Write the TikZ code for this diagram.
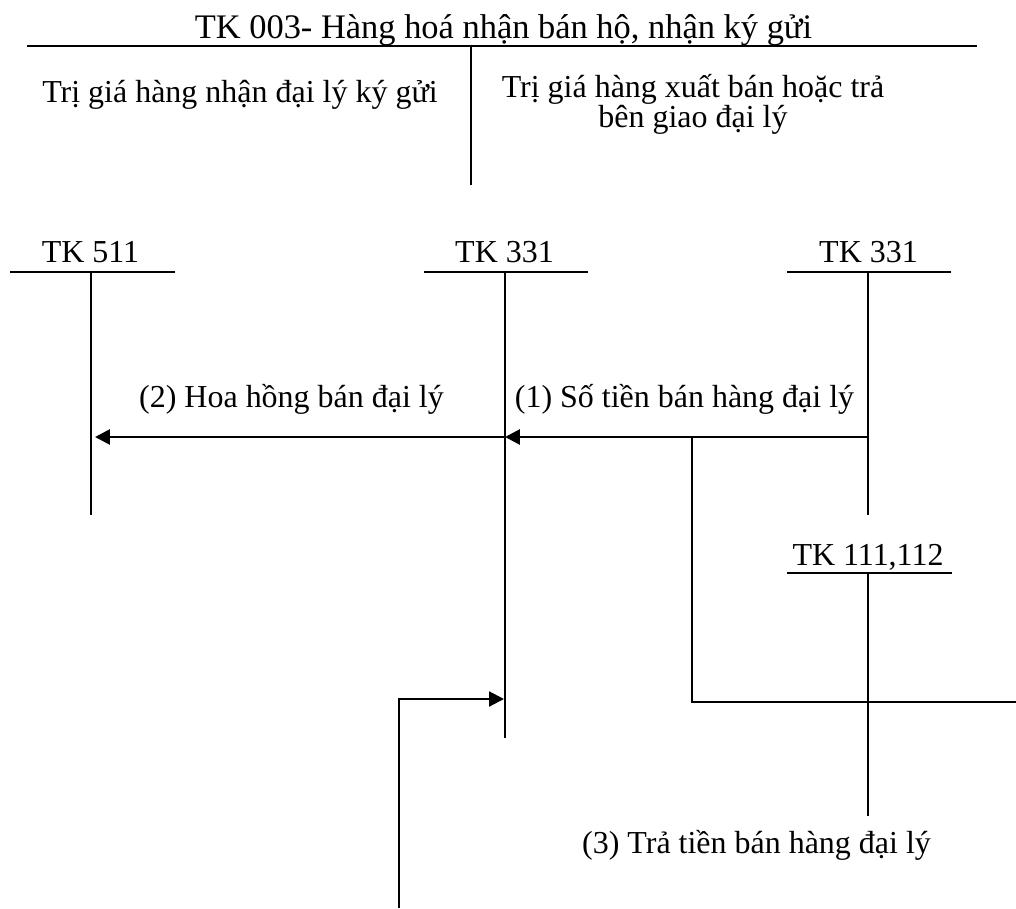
\documentclass[tikz,border=0pt]{standalone}
\usepackage{fontspec}
\setmainfont{Liberation Serif}
\usetikzlibrary{arrows.meta,positioning,calc}

\begin{document}
\begin{tikzpicture}[x=0.02cm,y=-0.02cm,
  txt/.style={font=\fontsize{18.2}{17.1}\selectfont,inner sep=0pt,anchor=base},
  ttl/.style={font=\fontsize{19.6}{20}\selectfont,inner sep=0pt,anchor=base},
  axis/.style={line width=0.95pt},
  flow/.style={line width=1.6pt,-{Triangle[length=8.5pt,width=8.5pt]}},
  link/.style={line width=1.1pt}
]
  \useasboundingbox (0,0) rectangle (1016,908);

  % TK 003
  \node[ttl] (t003) at (503.5,39) {TK 003- Hàng hoá nhận bán hộ, nhận ký gửi};
  \draw[line width=1.1pt] (27,46) -- (977,46);
  \draw[axis] (471,46) -- (471,185);
  \node[txt] (n003) at (240,103) {Trị giá hàng nhận đại lý ký gửi};
  \node[txt,align=center] (c003) at (693,128) {Trị giá hàng xuất bán hoặc trả\\bên giao đại lý};

  % TK 511
  \node[txt] (t511) at (90.5,263) {TK 511};
  \draw[axis] (10,272) -- (175,272);
  \draw[axis] (91,272) -- (91,515);

  % TK 331 (giua)
  \node[txt] (t331a) at (504.5,263) {TK 331};
  \draw[axis] (424,272) -- (588,272);
  \draw[axis] (505,272) -- (505,738);

  % TK 331 (phai)
  \node[txt] (t331b) at (868.5,263) {TK 331};
  \draw[axis] (787,272) -- (951,272);
  \draw[axis] (868,272) -- (868,515);

  % TK 111,112
  \node[txt] (t111) at (868,565) {TK 111,112};
  \draw[axis] (787,573) -- (952,573);
  \draw[axis] (868,573) -- (868,816);

  % diem noi
  \coordinate (p331b) at (868,437);
  \coordinate (p331a) at (505,437);
  \coordinate (p511) at (95,437);
  \coordinate (q1) at (692,437);
  \coordinate (q2) at (1016,702);
  \coordinate (r1) at (399,908);
  \coordinate (r2) at (504,699);

  % (1), (2)
  \draw[flow] (p331b) -- (p331a);
  \draw[flow] (p331a) -- (p511);
  \node[txt] (l2) at (291.5,407) {(2) Hoa hồng bán đại lý};
  \node[txt] (l1) at (684.5,407) {(1) Số tiền bán hàng đại lý};

  % (3)
  \draw[link] (q1) |- (q2);
  \draw[flow,line width=1.2pt] (r1) |- (r2);
  \node[txt] (l3) at (756.5,853) {(3) Trả tiền bán hàng đại lý};
\end{tikzpicture}
\end{document}
